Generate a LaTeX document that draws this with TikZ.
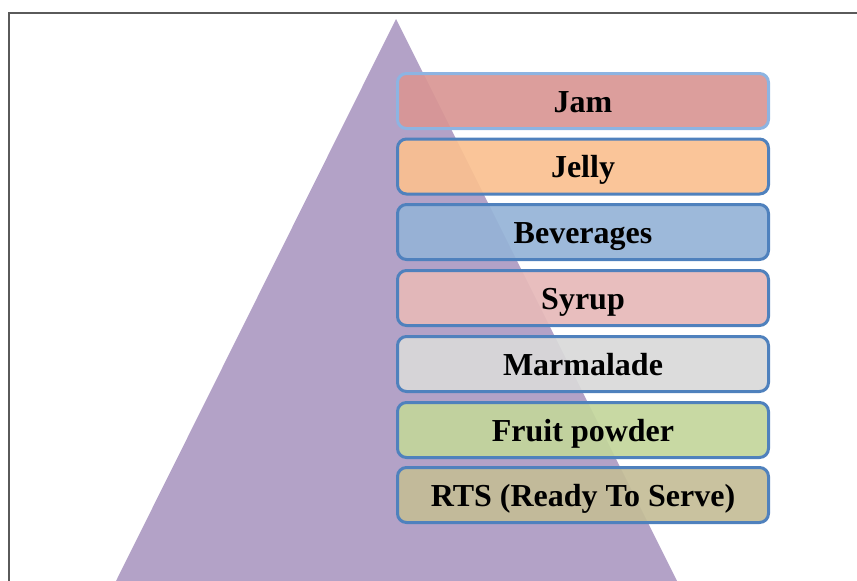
\documentclass[tikz,border=0pt]{standalone}
\usepackage{fontspec}
\setmainfont{Liberation Serif}
\definecolor{tri}{HTML}{B3A2C7}
\definecolor{edgeA}{HTML}{8DB4E2}
\definecolor{edgeB}{HTML}{4F81BD}
\definecolor{fJam}{HTML}{D99694}
\definecolor{fJelly}{HTML}{FAC090}
\definecolor{fBev}{HTML}{95B3D7}
\definecolor{fSyr}{HTML}{E6B9B8}
\definecolor{fMar}{HTML}{D9D9D9}
\definecolor{fFru}{HTML}{C3D69B}
\definecolor{fRts}{HTML}{C4BD97}
\definecolor{frame}{HTML}{5A5A5A}
\tikzset{
  item/.style={draw=edgeB, line width=3pt, rounded corners=9pt, fill opacity=0.92,
    text opacity=1, minimum width=371pt, minimum height=55pt, inner sep=0pt,
    text height=26pt, text depth=4pt,
    font=\fontsize{32}{36}\selectfont\bfseries, anchor=center},
}
\begin{document}
\begin{tikzpicture}[x=1pt,y=-1pt]
\useasboundingbox (0,0) rectangle (857,581);
\begin{scope}
\clip (0,0) rectangle (857,581);
\fill[tri] (396,19) -- (116,581) -- (677,581) -- cycle;
\end{scope}
\draw[frame, line width=2pt] (8.5,581) -- (8.5,13) -- (857,13);
\node[item, draw=edgeA, fill=fJam]   (jam)   at (583,101)   {Jam};
\node[item, fill=fJelly] (jelly) at (583,166.5) {Jelly};
\node[item, fill=fBev]   (bev)   at (583,232)   {Beverages};
\node[item, fill=fSyr]   (syr)   at (583,298)   {Syrup};
\node[item, fill=fMar]   (mar)   at (583,364)   {Marmalade};
\node[item, fill=fFru]   (fru)   at (583,430)   {Fruit powder};
\node[item, fill=fRts]   (rts)   at (583,495)   {RTS (Ready To Serve)};
\end{tikzpicture}
\end{document}
